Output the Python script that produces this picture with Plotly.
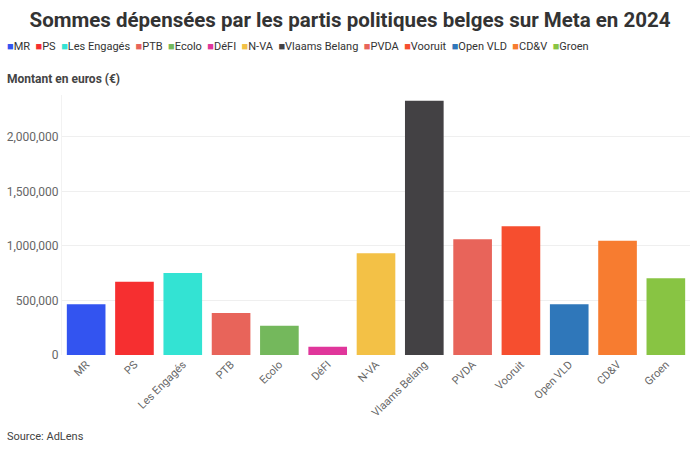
import plotly.graph_objects as go

parties = ["MR", "PS", "Les Engagés", "PTB", "Ecolo", "DéFI", "N-VA", "Vlaams Belang",
           "PVDA", "Vooruit", "Open VLD", "CD&V", "Groen"]
amounts = [465000, 672000, 752000, 385000, 269000, 76000, 933000, 2333000,
           1061000, 1181000, 465000, 1049000, 704000]
colors = ["#3354f0", "#f62f30", "#33e3d3", "#e8645a", "#74b85c", "#e0369b", "#f3c146",
          "#434144", "#e8645a", "#f64e2f", "#2f77ba", "#f77c30", "#88c443"]

title_text = "Sommes dépensées par les partis politiques belges sur Meta en 2024"
y_label = "Montant en euros (€)"
source_text = "Source: AdLens"

fig = go.Figure()
for p, a, c in zip(parties, amounts, colors):
    fig.add_trace(go.Bar(x=[p], y=[a], name=p, marker=dict(color=c, line=dict(width=0)),
                         showlegend=False))

legend_html = "  ".join(
    f"<span style='color:{c}'>■</span><span style='color:#333'>{p}</span>"
    for p, c in zip(parties, colors)
)

L, R, T, B = 62, 10, 95, 95
W, H = 700, 450
pw = W - L - R
ph = H - T - B


def px(x):
    return (x - L) / pw


def py(y):
    return (H - B - y) / ph


fig.update_layout(
    width=W, height=H,
    margin=dict(l=L, r=R, t=T, b=B, autoexpand=False),
    paper_bgcolor="white", plot_bgcolor="white",
    barmode="overlay", bargap=0.2,
    font=dict(family="Roboto, sans-serif", color="#666"),
    title=dict(text=f"<b>{title_text}</b>", x=0.5, xanchor="center", y=0.955, yanchor="middle",
               font=dict(size=20.5, color="#333", family="Roboto, sans-serif")),
    xaxis=dict(tickangle=-45, tickfont=dict(size=11, color="#666"), showgrid=False,
               showline=False, ticks="", automargin=False),
    yaxis=dict(range=[0, 2385000], dtick=500000, tickformat=",", showgrid=True,
               gridcolor="#efefef", zeroline=False, showline=True, linecolor="#f2f2f2",
               tickfont=dict(size=12, color="#666"), ticks="", automargin=False),
    annotations=[
        dict(text=legend_html, x=px(5), y=py(46), xref="paper", yref="paper", showarrow=False,
             xanchor="left", yanchor="middle", font=dict(size=11, color="#333")),
        dict(text=f"<b>{y_label}</b>", x=px(5), y=py(79), xref="paper", yref="paper",
             showarrow=False, xanchor="left", yanchor="middle",
             font=dict(size=12, color="#444")),
        dict(text=source_text, x=px(5), y=py(436), xref="paper", yref="paper",
             showarrow=False, xanchor="left", yanchor="middle",
             font=dict(size=11, color="#444")),
    ],
)

fig.write_html("out.html", config={"displayModeBar": False},
               post_script="document.body.style.margin='0';")
